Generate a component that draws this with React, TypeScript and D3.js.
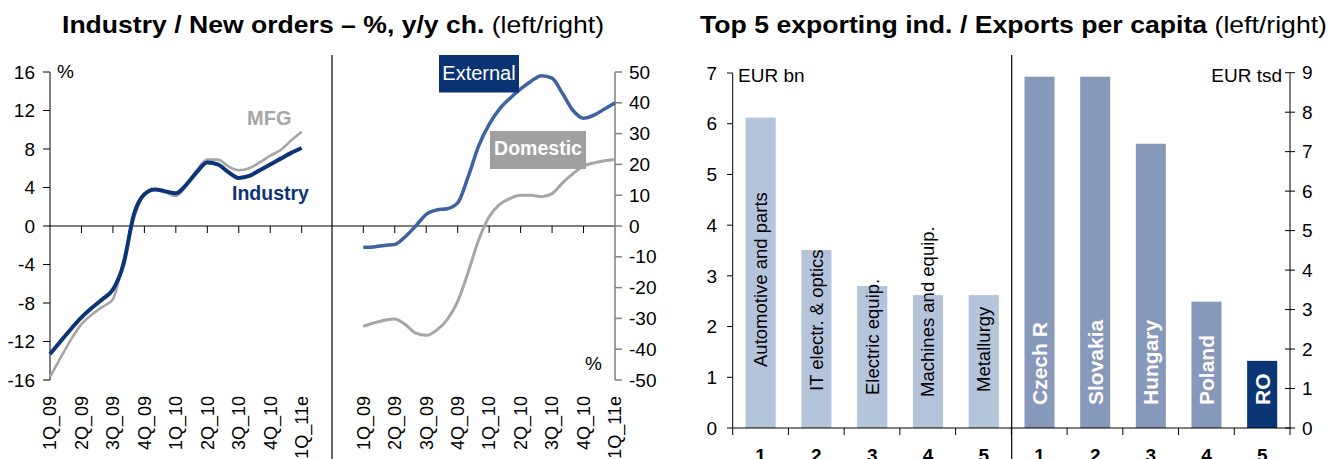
import React from "react";
import * as d3 from "d3";

// ---------- data ----------
const quarters = ["1Q_09", "2Q_09", "3Q_09", "4Q_09", "1Q_10", "2Q_10", "3Q_10", "4Q_10", "1Q_11e"];
// monthly points (3 per quarter) from 1Q_09 to 1Q_11e
const industry = [-13.3, -12.0, -10.7, -9.5, -8.5, -7.6, -6.6, -4.0, 1.2, 3.3, 3.8, 3.6, 3.4, 4.3, 5.6, 6.6, 6.4, 5.6, 5.0, 5.2, 5.8, 6.4, 7.0, 7.6, 8.1];
const mfg = [-15.7, -13.7, -11.8, -10.2, -9.2, -8.4, -7.6, -3.6, 0.8, 3.3, 3.8, 3.5, 3.1, 4.2, 5.8, 6.9, 6.9, 6.2, 5.8, 6.0, 6.6, 7.3, 7.9, 8.9, 9.8];
const external = [-6.9, -6.8, -6.3, -6.0, -3.5, 0.0, 3.8, 5.2, 5.6, 7.5, 16, 26, 33, 38, 41.5, 44.5, 47, 48.8, 48, 43, 37.5, 35, 36, 38, 40];
const domestic = [-32.6, -31.5, -30.6, -30.2, -32, -34.8, -35.5, -33.8, -30.4, -24.5, -15, -4.5, 3, 7, 9, 10, 10, 9.5, 10.5, 14, 17, 19.5, 20.5, 21.2, 21.6];
const leftTicks = [-16, -12, -8, -4, 0, 4, 8, 12, 16];
const rightTicks = [-50, -40, -30, -20, -10, 0, 10, 20, 30, 40, 50];

const ranks = ["1", "2", "3", "4", "5"];
const sectors = ["Automotive and parts", "IT electr. & optics", "Electric equip.", "Machines and equip.", "Metallurgy"];
const sectorExports = [6.12, 3.51, 2.8, 2.62, 2.62];
const countries = ["Czech R", "Slovakia", "Hungary", "Poland", "RO"];
const exportsPerCapita = [8.9, 8.9, 7.2, 3.2, 1.7];
const bnTicks = [0, 1, 2, 3, 4, 5, 6, 7];
const tsdTicks = [0, 1, 2, 3, 4, 5, 6, 7, 8, 9];

// ---------- layout / style ----------
const W = 1332, H = 459;
const FONT = "'Liberation Sans', Arial, sans-serif";
const NAVY = "#0B3578";
const STEEL = "#3E63A1";
const GREY = "#A6A6A6";
const BAR_LIGHT = "#B4C4DA";
const BAR_MID = "#8699BA";
const sectorLabelLift = [61, 37, 33, 31, 36];

export default function App() {
  const yL = d3.scaleLinear().domain([-16, 16]).range([380, 72]);
  const yR = d3.scaleLinear().domain([-50, 50]).range([380, 72]);
  const xL = d3.scaleLinear().domain([0, 8]).range([50, 301.7]);
  const xR = d3.scaleLinear().domain([0, 8]).range([363.3, 615]);
  const zeroY = yL(0);

  const lineFor = (x: any, y: any) =>
    d3.line<number>().x((_, i) => x(i / 3)).y((v) => y(v)).curve(d3.curveMonotoneX);

  const yBn = d3.scaleLinear().domain([0, 7]).range([428, 73]);
  const yTsd = d3.scaleLinear().domain([0, 9]).range([428, 72.7]);
  const xBn = d3.scaleBand().domain(ranks).range([732.7, 1011.7]).paddingInner(0.46).paddingOuter(0.23);
  const xTsd = d3.scaleBand().domain(ranks).range([1011.7, 1290]).paddingInner(0.46).paddingOuter(0.23);
  const base = 428;

  return (
    <svg width={W} height={H} style={{ position: "absolute", left: 0, top: 0, background: "#fff" }} fontFamily={FONT}>
      {/* titles */}
      <text x={62} y={33} fontSize={24} textLength={542} lengthAdjust="spacingAndGlyphs" fill="#000">
        <tspan fontWeight="bold">Industry / New orders – %, y/y ch.</tspan>
        <tspan> (left/right)</tspan>
      </text>
      <text x={700} y={33} fontSize={24} textLength={627} lengthAdjust="spacingAndGlyphs" fill="#000">
        <tspan fontWeight="bold">Top 5 exporting ind. / Exports per capita</tspan>
        <tspan> (left/right)</tspan>
      </text>

      {/* ---------- line chart left ---------- */}
      <line x1={50} x2={50} y1={yL(16)} y2={yL(-16)} stroke="#000" strokeWidth={1} />
      {leftTicks.map((t) => (
        <g key={"lt" + t}>
          <line x1={43} x2={50} y1={yL(t)} y2={yL(t)} stroke="#000" />
          <text x={35} y={yL(t)} dy="0.35em" textAnchor="end" fontSize={19}>{t}</text>
        </g>
      ))}
      <text x={57} y={78} fontSize={19}>%</text>
      <line x1={50} x2={615} y1={zeroY} y2={zeroY} stroke="#000" strokeWidth={1} />
      {quarters.map((q, i) => (
        <g key={"lq" + q}>
          {i > 0 && <line x1={xL(i)} x2={xL(i)} y1={zeroY} y2={zeroY + 7} stroke="#000" />}
          <text transform={`translate(${xL(i)},396) rotate(-90)`} dy="0.35em" textAnchor="end" fontSize={18}>{q}</text>
        </g>
      ))}
      <path d={lineFor(xL, yL)(mfg) || ""} fill="none" stroke={GREY} strokeWidth={2.6} />
      <path d={lineFor(xL, yL)(industry) || ""} fill="none" stroke={NAVY} strokeWidth={4} />
      <text x={247} y={125} fontSize={20} fontWeight="bold" fill={GREY}>MFG</text>
      <text x={232} y={200} fontSize={19.5} fontWeight="bold" fill={NAVY}>Industry</text>

      {/* divider */}
      <line x1={332} x2={332} y1={55} y2={H} stroke="#000" strokeWidth={1.2} />

      {/* ---------- line chart right ---------- */}
      <line x1={615} x2={615} y1={yR(50)} y2={yR(-50)} stroke="#808080" strokeWidth={1.5} />
      {rightTicks.map((t) => (
        <g key={"rt" + t}>
          <line x1={615} x2={622} y1={yR(t)} y2={yR(t)} stroke="#808080" strokeWidth={1.5} />
          <text x={629} y={yR(t)} dy="0.35em" fontSize={19}>{t}</text>
        </g>
      ))}
      <text x={585} y={370} fontSize={19}>%</text>
      {quarters.map((q, i) => (
        <g key={"rq" + q}>
          {i < quarters.length - 1 && <line x1={xR(i)} x2={xR(i)} y1={zeroY} y2={zeroY + 7} stroke="#000" />}
          <text transform={`translate(${xR(i)},396) rotate(-90)`} dy="0.35em" textAnchor="end" fontSize={18}>{q}</text>
        </g>
      ))}
      <path d={lineFor(xR, yR)(domestic) || ""} fill="none" stroke={GREY} strokeWidth={3} />
      <path d={lineFor(xR, yR)(external) || ""} fill="none" stroke={STEEL} strokeWidth={3.5} />
      <rect x={439} y={55} width={80} height={37.5} fill="#0A3373" />
      <text x={479} y={80} textAnchor="middle" fontSize={20} fill="#fff">External</text>
      <rect x={490} y={131} width={96} height={38} fill="#A0A0A0" />
      <text x={538} y={155} textAnchor="middle" fontSize={19.5} fontWeight="bold" fill="#fff">Domestic</text>

      {/* ---------- bar chart: sectors ---------- */}
      {sectorExports.map((v, i) => {
        const x = xBn(ranks[i])!;
        const cx = x + xBn.bandwidth() / 2;
        return (
          <g key={"sb" + i}>
            <rect x={x} y={yBn(v)} width={xBn.bandwidth()} height={base - yBn(v)} fill={BAR_LIGHT} />
            <text transform={`translate(${cx},${base - sectorLabelLift[i]}) rotate(-90)`} dy="0.35em" fontSize={18.5} fill="#000">
              {sectors[i]}
            </text>
          </g>
        );
      })}
      <line x1={732.7} x2={732.7} y1={yBn(7)} y2={base} stroke="#000" />
      {bnTicks.map((t) => (
        <g key={"bt" + t}>
          <line x1={727} x2={732.7} y1={yBn(t)} y2={yBn(t)} stroke="#000" />
          <text x={717} y={yBn(t)} dy="0.35em" textAnchor="end" fontSize={19}>{t}</text>
        </g>
      ))}
      <text x={738} y={82} fontSize={19}>EUR bn</text>

      {/* ---------- bar chart: countries ---------- */}
      {exportsPerCapita.map((v, i) => {
        const x = xTsd(ranks[i])!;
        const cx = x + xTsd.bandwidth() / 2;
        return (
          <g key={"cb" + i}>
            <rect x={x} y={yTsd(v)} width={xTsd.bandwidth()} height={base - yTsd(v)} fill={i === 4 ? "#0B3575" : BAR_MID} />
            <text transform={`translate(${cx},${base - 23}) rotate(-90)`} dy="0.36em" fontSize={21} fontWeight="bold" fill="#fff">
              {countries[i]}
            </text>
          </g>
        );
      })}
      <line x1={1290} x2={1290} y1={yTsd(9)} y2={base} stroke="#000" />
      {tsdTicks.map((t) => (
        <g key={"tt" + t}>
          <line x1={1285} x2={1295} y1={yTsd(t)} y2={yTsd(t)} stroke="#000" />
          <text x={1302} y={yTsd(t)} dy="0.35em" fontSize={19}>{t}</text>
        </g>
      ))}
      <text x={1282} y={82} textAnchor="end" fontSize={19}>EUR tsd</text>

      {/* bar x axis */}
      <line x1={732.7} x2={1290} y1={base} y2={base} stroke="#000" />
      {d3.range(11).map((k) => {
        const x = 732.7 + k * ((1290 - 732.7) / 10);
        return <line key={"bx" + k} x1={x} x2={x} y1={base} y2={base + 7} stroke="#000" />;
      })}
      {ranks.map((r) => (
        <g key={"rk" + r}>
          <text x={xBn(r)! + xBn.bandwidth() / 2} y={462} textAnchor="middle" fontSize={19} fontWeight="bold">{r}</text>
          <text x={xTsd(r)! + xTsd.bandwidth() / 2} y={462} textAnchor="middle" fontSize={19} fontWeight="bold">{r}</text>
        </g>
      ))}

      {/* divider */}
      <line x1={1011.7} x2={1011.7} y1={55} y2={H} stroke="#000" strokeWidth={1.2} />
    </svg>
  );
}
